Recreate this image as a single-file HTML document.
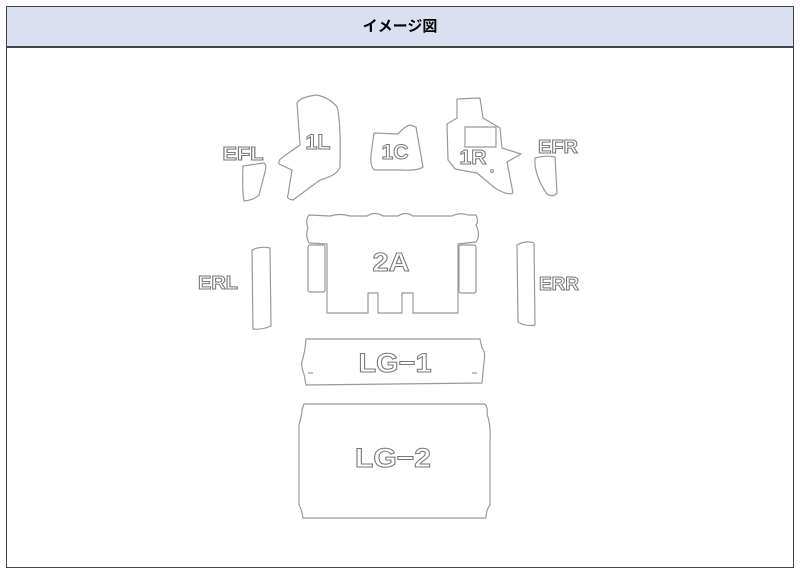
<!DOCTYPE html>
<html><head><meta charset="utf-8"><style>
html,body{margin:0;padding:0;background:#fff;width:800px;height:576px;overflow:hidden}
.hdr{position:absolute;left:6px;top:6px;width:786px;height:39px;background:#dae0f0;border:1px solid #444;border-bottom:2px solid #444;font:bold 15px "Liberation Sans","Noto Sans CJK JP",sans-serif;text-align:center;line-height:39px;color:#000}
.box{position:absolute;left:6px;top:46px;width:786px;height:521px;border:1px solid #444;border-top:none}
svg{position:absolute;left:0;top:0}
</style></head><body>
<div class="hdr">イメージ図</div>
<div class="box"></div>
<svg width="800" height="576" viewBox="0 0 800 576">
<g fill="none" stroke="#999" stroke-width="1.2" stroke-linejoin="round">
<path d="M297,103 Q300,97 317,95 Q330,98 337,107 Q341,120 340,167 Q338,175 320,180 L293,200 Q286,199 288,195 L292,170 L279,164 Q278,160 283,157 L300,145 Z"/>
<path d="M374,133 L398,134 Q405,126 410,125 L416,127 L423,167 Q418,171 400,170 L375,170 Q370,168 371,155 Z"/>
<path d="M457,99 L480,98 L483,118 L500,128 L502,148 L521,154 L507,162 L513,193 Q508,196 495,188 L477,173 L455,169 L448,160 L447,124 L457,118 Z"/>
<rect x="465" y="127" width="31" height="20"/>
<circle cx="492" cy="171" r="1.5"/>
<path d="M243,166 L264,163 Q267,165 265,172 L259,195 Q254,200 244,201 Q242,190 243,166 Z"/>
<path d="M535,158 Q545,155 555,157 L557,193 Q553,198 547,194 Q537,180 535,165 Z"/>
<path d="M309,215 L330,216 Q340,213 350,216 L367,216 Q375,211 383,216 L398,216 Q406,211 413,216 L452,216 Q460,212 468,215 L476,215 Q479,222 476,225 Q481,235 476,242 L458,244 L458,313 L413,313 L413,293 L402,293 L402,313 L378,313 L378,293 L368,293 L368,313 L327,313 L327,244 L309,243 Q305,235 308,228 Q305,220 309,215 Z"/>
<rect x="308" y="245" width="17" height="47" rx="2"/>
<rect x="459" y="245" width="17" height="48" rx="2"/>
<path d="M252,250 Q260,246 270,248 L271,326 Q262,330 253,329 Z"/>
<path d="M517,245 Q526,240 534,243 L535,325 Q526,327 518,322 Z"/>
<path d="M306,339 L480,339 L482,348 Q486,352 484,362 L482,383 L306,385 L304,374 Q300,365 303,358 L305,349 Z"/>
<line x1="308" y1="373" x2="313" y2="373"/><line x1="472" y1="373" x2="477" y2="373"/>
<path d="M304,404 L484,404 Q488,405 487,414 Q491,425 490,440 L490,505 Q486,510 486,518 L303,518 Q302,510 299,505 L299,425 Q302,414 302,410 Z"/>
</g>
<g font-family="Liberation Sans,sans-serif" font-weight="bold" fill="#fff" stroke="#777" stroke-width="1" text-anchor="middle">
<text x="243" y="160" font-size="18" textLength="41" lengthAdjust="spacingAndGlyphs">EFL</text>
<text x="318" y="149" font-size="21" textLength="25" lengthAdjust="spacingAndGlyphs">1L</text>
<text x="395" y="159" font-size="21" textLength="27" lengthAdjust="spacingAndGlyphs">1C</text>
<text x="473" y="164" font-size="20" textLength="27" lengthAdjust="spacingAndGlyphs">1R</text>
<text x="558" y="153" font-size="18" textLength="40" lengthAdjust="spacingAndGlyphs">EFR</text>
<text x="391" y="271" font-size="26" textLength="37" lengthAdjust="spacingAndGlyphs">2A</text>
<text x="218" y="289" font-size="18" textLength="40" lengthAdjust="spacingAndGlyphs">ERL</text>
<text x="559" y="290" font-size="18" textLength="40" lengthAdjust="spacingAndGlyphs">ERR</text>
<text x="395" y="372" font-size="27" textLength="73" lengthAdjust="spacingAndGlyphs">LG−1</text>
<text x="393" y="467" font-size="27" textLength="76" lengthAdjust="spacingAndGlyphs">LG−2</text>
</g>
</svg>
</body></html>
